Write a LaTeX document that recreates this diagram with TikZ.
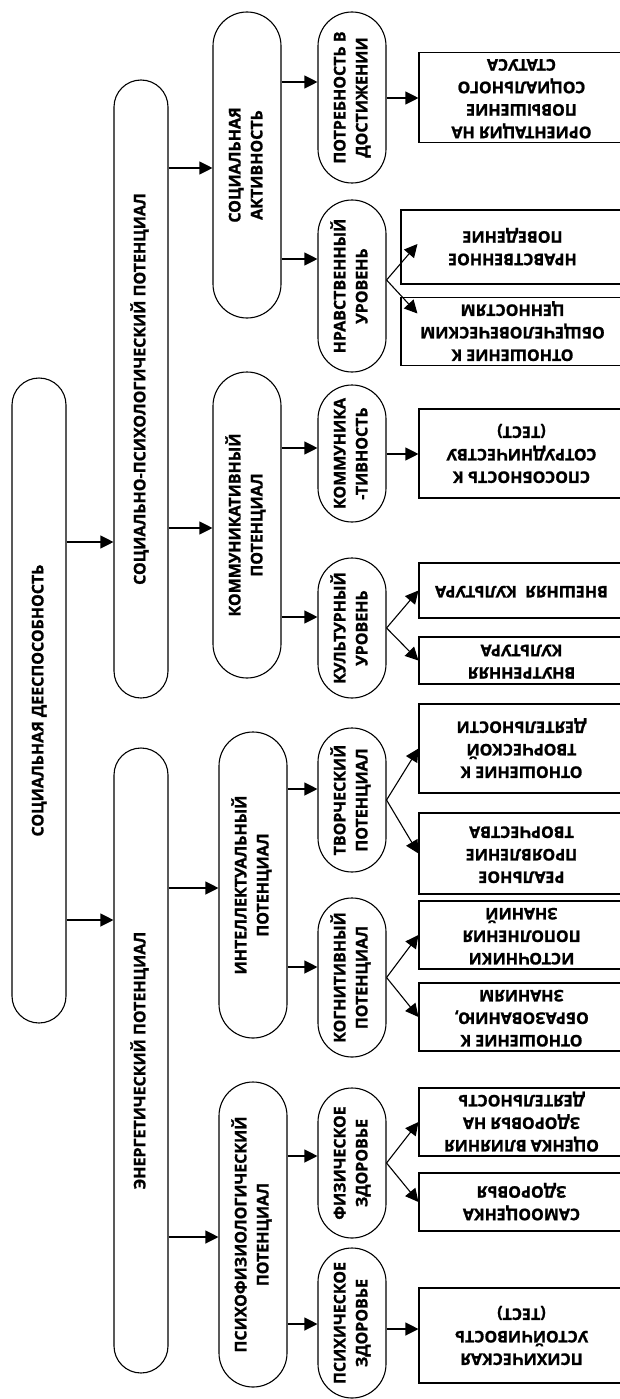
\documentclass[tikz,border=0pt]{standalone}
\usepackage{fontspec}
\setmainfont{Open Sans}[BoldFeatures={FakeBold=1.2}]
\usepackage{graphicx}
\usepackage{tikz}
\usetikzlibrary{arrows.meta}
\tikzstyle{rootbox} = [rectangle, rounded corners=27pt, minimum width=54pt,
    draw=black, line width=1.1pt, inner sep=0pt,
    font=\fontsize{16}{22}\selectfont\bfseries]
\tikzstyle{midbox} = [rootbox, rounded corners=34pt, minimum width=68pt]
\tikzstyle{leafbox} = [rectangle, minimum width=205pt, draw=black,
    line width=1.1pt, inner sep=0pt,
    font=\fontsize{16}{22.5}\selectfont\bfseries]
\tikzstyle{arrow} = [line width=1.1pt, -{Triangle[length=13pt,width=13pt]}]
\newcommand{\vtext}[1]{\rotatebox{90}{\begin{tabular}{@{}c@{}}#1\end{tabular}}}
\newcommand{\ftext}[1]{\rotatebox{180}{\begin{tabular}{@{}c@{}}#1\end{tabular}}}

\begin{document}
\begin{tikzpicture}[x=1pt, y=-1pt]
  \useasboundingbox (0,0) rectangle (620,1399);
  \clip (0,0) rectangle (620,1399);

  % root and first level
  \node (root) [rootbox, minimum height=645pt] at (39,700.5)
        {\vtext{СОЦИАЛЬНАЯ ДЕЕСПОСОБНОСТЬ}};
  \node (socpsych) [rootbox, minimum height=618pt] at (141,389)
        {\vtext{СОЦИАЛЬНО-ПСИХОЛОГИЧЕСКИЙ ПОТЕНЦИАЛ}};
  \node (energy) [rootbox, minimum height=625pt] at (141,1060.5)
        {\vtext{ЭНЕРГЕТИЧЕСКИЙ ПОТЕНЦИАЛ}};

  % second level
  \node (socact) [midbox, minimum height=306pt] at (247,165)
        {\vtext{СОЦИАЛЬНАЯ\\АКТИВНОСТЬ}};
  \node (komm) [midbox, minimum height=306pt] at (247,525)
        {\vtext{КОММУНИКАТИВНЫЙ\\ПОТЕНЦИАЛ}};
  \node (intel) [midbox, minimum height=306pt] at (253,885)
        {\vtext{ИНТЕЛЛЕКТУАЛЬНЫЙ\\ПОТЕНЦИАЛ}};
  \node (psyphys) [midbox, minimum height=305pt] at (253,1234.5)
        {\vtext{ПСИХОФИЗИОЛОГИЧЕСКИЙ\\ПОТЕНЦИАЛ}};

  % third level
  \node (potreb) [midbox, minimum height=171pt] at (352,97.5)
        {\vtext{ПОТРЕБНОСТЬ В\\ДОСТИЖЕНИИ}};
  \node (nravst) [midbox, minimum height=172pt] at (352,286)
        {\vtext{НРАВСТВЕННЫЙ\\УРОВЕНЬ}};
  \node (kommun) [midbox, minimum height=137pt] at (352,453.5)
        {\vtext{КОММУНИКА\\-ТИВНОСТЬ}};
  \node (kult) [midbox, minimum height=140pt] at (352,628)
        {\vtext{КУЛЬТУРНЫЙ\\УРОВЕНЬ}};
  \node (tvorch) [midbox, minimum height=144pt] at (352,800)
        {\vtext{ТВОРЧЕСКИЙ\\ПОТЕНЦИАЛ}};
  \node (kogn) [midbox, minimum height=159pt] at (352,977.5)
        {\vtext{КОГНИТИВНЫЙ\\ПОТЕНЦИАЛ}};
  \node (phys) [midbox, minimum height=150pt] at (352,1163)
        {\vtext{ФИЗИЧЕСКОЕ\\ЗДОРОВЬЕ}};
  \node (psych) [midbox, minimum height=150pt] at (352,1323)
        {\vtext{ПСИХИЧЕСКОЕ\\ЗДОРОВЬЕ}};

  % indicators
  \node (orient) [leafbox, minimum height=89pt] at (521.5,97.5)
        {\ftext{ОРИЕНТАЦИЯ НА\\ПОВЫШЕНИЕ\\СОЦИАЛЬНОГО\\СТАТУСА}};
  \node (nravpov) [leafbox, minimum width=223pt, minimum height=74pt] at (512.5,247)
        {\ftext{НРАВСТВЕННОЕ\\ПОВЕДЕНИЕ}};
  \node (otnval) [leafbox, minimum width=223pt, minimum height=67pt] at (512.5,331.5)
        {\ftext{ОТНОШЕНИЕ К\\ОБЩЕЧЕЛОВЕЧЕСКИМ\\ЦЕННОСТЯМ}};
  \node (sposob) [leafbox, minimum height=89pt] at (521.5,453.5)
        {\ftext{СПОСОБНОСТЬ К\\СОТРУДНИЧЕСТВУ\\(ТЕСТ)}};
  \node (vnesh) [leafbox, minimum height=55pt] at (521.5,590.5)
        {\ftext{ВНЕШНЯЯ\ \ КУЛЬТУРА}};
  \node (vnutr) [leafbox, minimum height=47pt] at (521.5,660.5)
        {\ftext{ВНУТРЕННЯЯ\\КУЛЬТУРА}};
  \node (otntv) [leafbox, minimum height=89pt] at (521.5,748.5)
        {\ftext{ОТНОШЕНИЕ К\\ТВОРЧЕСКОЙ\\ДЕЯТЕЛЬНОСТИ}};
  \node (real) [leafbox, minimum height=81pt] at (521.5,853.5)
        {\ftext{РЕАЛЬНОЕ\\ПРОЯВЛЕНИЕ\\ТВОРЧЕСТВА}};
  \node (istoch) [leafbox, minimum height=68pt] at (521.5,935)
        {\ftext{ИСТОЧНИКИ\\ПОПОЛНЕНИЯ\\ЗНАНИЙ}};
  \node (otnobr) [leafbox, minimum height=68pt] at (521.5,1017)
        {\ftext{ОТНОШЕНИЕ К\\ОБРАЗОВАНИЮ,\\ЗНАНИЯМ}};
  \node (ocenka) [leafbox, minimum height=68pt] at (521.5,1122)
        {\ftext{ОЦЕНКА ВЛИЯНИЯ\\ЗДОРОВЬЯ НА\\ДЕЯТЕЛЬНОСТЬ}};
  \node (samooc) [leafbox, minimum height=58pt] at (521.5,1202)
        {\ftext{САМООЦЕНКА\\ЗДОРОВЬЯ}};
  \node (psyust) [leafbox, minimum height=95pt] at (521.5,1335.5)
        {\ftext{ПСИХИЧЕСКАЯ\\УСТОЙЧИВОСТЬ\\(ТЕСТ)}};

  % straight arrows
  \foreach \a/\b/\y in {root/socpsych/542, root/energy/920,
                        socpsych/socact/168, socpsych/komm/528,
                        energy/intel/888, energy/psyphys/1237,
                        socact/potreb/82, socact/nravst/259,
                        komm/kommun/448, komm/kult/617,
                        intel/tvorch/789, intel/kogn/967,
                        psyphys/phys/1156, psyphys/psych/1324,
                        potreb/orient/98, kommun/sposob/454, psych/psyust/1329}
    \draw[arrow] (\a.east |- 0,\y) -- (\b.west |- 0,\y);

  % forks
  \foreach \a/\b in {kult/vnesh, kult/vnutr, tvorch/otntv, tvorch/real,
                     kogn/istoch, kogn/otnobr, phys/ocenka, phys/samooc}
    \draw[arrow] (\a.east) -- (\b.west);
  \draw[arrow] ([yshift=6pt]nravst.east) -- ([xshift=17pt,yshift=3pt]nravpov.west);
  \draw[arrow] ([yshift=6pt]nravst.east) -- ([xshift=17pt,yshift=18pt]otnval.west);

\end{tikzpicture}
\end{document}
